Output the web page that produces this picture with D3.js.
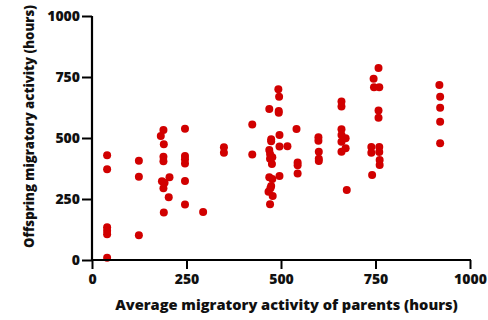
<!DOCTYPE html>
<html>
<head>
<meta charset="utf-8">
<script src="https://cdn.jsdelivr.net/npm/d3@7"></script>
<style>
  html, body { margin: 0; padding: 0; background: #fff; }
  svg { display: block; }
  text { font-family: "Open Sans", Lato, sans-serif; font-weight: 800; fill: #111; }
</style>
</head>
<body>
<svg id="chart" width="488" height="320"></svg>
<script>
// Parent average migratory activity (hours), one entry per offspring
const parentHours = [
  40, 40, 40, 40, 40, 40,
  124, 124, 124,
  189, 182, 190, 189, 189, 185, 192, 189, 205, 203, 190,
  246, 246, 246, 246, 246, 246,
  294,
  349, 349,
  424, 424,
  493, 495, 469, 494, 494, 474, 474, 496, 496, 517, 469, 471, 477, 471, 476, 469, 477, 496, 474, 472, 467, 478, 471,
  541, 544, 544, 544,
  599, 599, 600, 600, 600,
  660, 660, 660, 660, 671, 660, 671, 660, 674,
  758, 745, 746, 760, 758, 758, 739, 739, 760, 760, 761, 761, 741,
  919, 921, 921, 921, 921
];
// Offspring migratory activity (hours)
const offspringHours = [
  429, 372, 134, 120, 106, 9,
  407, 341, 101,
  533, 508, 474, 423, 405, 323, 317, 294, 339, 257, 195,
  538, 426, 413, 396, 324, 227,
  197,
  462, 440,
  555, 432,
  700, 669, 619, 611, 603, 495, 487, 512, 465, 466, 451, 434, 421, 415, 393, 339, 332, 344, 303, 294, 280, 262, 228,
  537, 400, 388, 355,
  503, 489, 444, 415, 406,
  650, 629, 536, 512, 499, 485, 458, 444, 287,
  787, 743, 708, 708, 613, 583, 463, 440, 463, 443, 410, 389, 348,
  717, 669, 624, 567, 478
];
const xTicks = [0, 250, 500, 750, 1000];
const yTicks = [0, 250, 500, 750, 1000];

const xTitle = "Average migratory activity of parents (hours)";
const yTitle = "Offspring migratory activity (hours)";

const svg = d3.select("#chart");

const x = d3.scaleLinear().domain([0, 1000]).range([92, 470]);
const y = d3.scaleLinear().domain([0, 1000]).range([260, 16]);

// Points
svg.append("g")
  .selectAll("circle")
  .data(parentHours.map((p, i) => ({ p, o: offspringHours[i] })))
  .join("circle")
  .attr("cx", d => x(d.p))
  .attr("cy", d => y(d.o))
  .attr("r", 4)
  .attr("fill", "#d10000");

// Axes
const fmt = d3.format("d");
const xAxis = svg.append("g")
  .attr("transform", `translate(0,${y(0)})`)
  .call(d3.axisBottom(x).tickValues(xTicks).tickFormat(fmt).tickSize(9).tickPadding(5).tickSizeOuter(0));
const yAxis = svg.append("g")
  .attr("transform", `translate(${x(0)},0)`)
  .call(d3.axisLeft(y).tickValues(yTicks).tickFormat(fmt).tickSize(10).tickPadding(2).tickSizeOuter(0));

[xAxis, yAxis].forEach(g => {
  g.select(".domain").attr("stroke", "#000").attr("stroke-width", 2.2);
  g.selectAll(".tick line").attr("stroke", "#000").attr("stroke-width", 2);
  g.selectAll(".tick text")
    .attr("fill", "#111")
    .style("font-family", "'Open Sans', Lato, sans-serif")
    .style("font-weight", 800)
    .style("font-size", "14px");
});
xAxis.select(".domain").attr("d", `M${x(0) - 1},0H${x(1000) + 1}`);
yAxis.select(".domain").attr("d", `M0,${y(1000)}V${y(0) + 1}`);

// Axis titles, sized to span their intended lengths
function fitText(sel, target) {
  const len = sel.node().getComputedTextLength();
  const size = parseFloat(sel.style("font-size"));
  sel.style("font-size", (size * target / len).toFixed(2) + "px");
}

const xt = svg.append("text")
  .attr("x", 286.5)
  .attr("y", 310)
  .attr("text-anchor", "middle")
  .style("font-size", "14px")
  .text(xTitle);
fitText(xt, 343);

const yt = svg.append("text")
  .attr("transform", `translate(34,126.5) rotate(-90)`)
  .attr("text-anchor", "middle")
  .style("font-size", "14px")
  .text(yTitle);
fitText(yt, 243);
</script>
</body>
</html>
